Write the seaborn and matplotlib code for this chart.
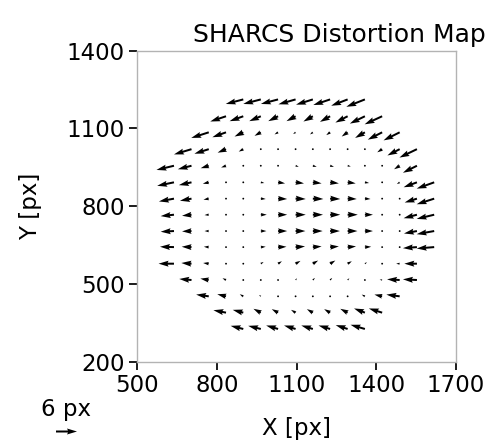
import matplotlib
matplotlib.use("Agg")
import matplotlib.pyplot as plt
import numpy as np
import pandas as pd
import seaborn as sns

# ---- data: grid positions (detector px) and distortion vectors (px) ----
col_x = [573, 638, 704, 769, 834, 899, 965, 1030, 1096, 1161, 1226,
         1292, 1357, 1422, 1488, 1553, 1618]
row_y = [1212, 1147, 1085, 1020, 956, 892, 829, 767, 704, 642, 578,
         515, 452, 389, 326]
row_first_col = [5, 4, 3, 2, 1, 1, 1, 1, 1, 1, 1, 2, 3, 4, 5]

u_rows = [
    [-5.0, -5.0, -4.9, -4.9, -4.8, -4.8, -4.7, -5.3],
    [-4.5, -3.9, -3.3, -2.8, -2.6, -2.7, -2.9, -3.5, -4.3, -5.0],
    [-5.0, -3.9, -2.5, -1.8, -1.0, -0.7, -0.8, -1.1, -1.7, -2.8, -4.1, -4.6],
    [-5.0, -4.1, -2.4, -1.3, -0.4, -0.1, 0.0, 0.1, 0.2, 0.2, 0.4, -1.4, -3.5, -5.0],
    [-5.0, -3.9, -2.3, -1.4, -0.4, -0.1, 0.3, 0.9, 1.1, 1.1, 0.9, 0.2, 0.4, -1.6, -4.0],
    [-4.8, -3.6, -1.7, -0.3, 0.0, 1.0, 2.0, 2.4, 2.5, 2.5, 2.3, 1.2, 0.2, -0.8, -3.8, -5.0],
    [-4.3, -3.3, -1.5, -0.2, 0.1, 1.4, 2.6, 2.9, 3.0, 2.9, 2.6, 1.6, -0.2, -0.3, -3.5, -5.0],
    [-3.8, -2.7, -1.2, -0.1, 0.1, 1.7, 2.6, 2.9, 2.9, 2.9, 2.9, 2.3, 0.2, 0.1, -3.8, -5.0],
    [-3.8, -2.7, -1.2, -0.1, 0.1, 1.6, 2.6, 2.8, 2.8, 2.8, 2.8, 2.3, 0.2, 0.1, -3.7, -5.0],
    [-4.0, -2.8, -1.4, -0.1, 0.1, 1.4, 2.4, 2.7, 2.5, 2.5, 2.4, 1.8, 0.1, 0.1, -4.0, -5.0],
    [-4.4, -2.9, -1.6, 0.2, 0.1, 0.8, 1.1, 1.4, 1.5, 1.5, 1.2, 0.6, 0.1, -1.0, -3.6],
    [-3.5, -2.4, -1.0, -0.1, 0.1, 0.3, 0.4, 0.6, 0.6, 0.5, 0.1, -0.7, -3.6, -4.0],
    [-3.6, -2.5, -1.0, -0.5, 0.0, 0.0, 0.1, 0.1, 0.1, -0.9, -2.2, -3.8],
    [-3.6, -3.0, -2.1, -1.8, -1.3, -1.7, -1.7, -2.1, -3.1, -3.8],
    [-3.6, -3.6, -3.4, -3.3, -3.3, -3.3, -3.4, -4.1],
]
v_rows = [
    [-1.3, -1.3, -1.3, -1.4, -1.5, -1.6, -1.8, -2.1],
    [-1.5, -1.4, -1.4, -1.4, -1.4, -1.5, -1.6, -1.8, -2.1, -2.3],
    [-1.6, -1.4, -1.2, -1.0, -0.6, -0.5, -0.6, -0.8, -1.2, -1.6, -2.1, -2.3],
    [-1.5, -1.3, -1.0, -0.7, -0.3, -0.2, -0.2, -0.2, -0.2, 0.2, 0.4, -0.9, -1.8, -2.4],
    [-1.2, -1.0, -0.7, -0.5, -0.2, -0.1, -0.1, -0.3, -0.3, -0.3, -0.2, 0.2, 0.4, -1.0, -2.0],
    [-1.0, -0.8, -0.4, -0.1, 0.0, -0.2, -0.3, -0.3, -0.3, -0.3, -0.3, -0.2, 0.1, -0.5, -1.4, -1.8],
    [-0.8, -0.6, -0.3, 0.0, 0.0, -0.1, -0.1, -0.1, -0.1, -0.1, -0.1, -0.1, 0.0, -0.2, -1.1, -1.6],
    [-0.4, -0.3, -0.1, 0.0, 0.0, 0.0, 0.0, 0.0, 0.0, 0.0, 0.0, 0.0, 0.0, 0.0, -1.0, -1.2],
    [-0.2, -0.1, 0.0, 0.0, 0.0, 0.0, 0.0, 0.0, 0.0, 0.0, 0.0, 0.0, 0.0, 0.0, -0.7, -0.9],
    [0.1, 0.1, 0.1, 0.0, 0.0, 0.1, 0.1, 0.2, 0.2, 0.2, 0.2, 0.1, 0.0, 0.0, -0.3, -0.4],
    [0.0, 0.2, 0.2, 0.2, 0.1, 0.5, 0.7, 0.8, 0.9, 0.9, 0.7, 0.4, 0.0, 0.0, 0.0],
    [0.3, 0.4, 0.5, 0.2, 0.2, 0.4, 0.5, 0.6, 0.6, 0.5, 0.1, 0.1, 0.2, 0.2],
    [0.5, 0.6, 0.6, 0.4, 0.3, 0.3, 0.3, 0.3, 0.3, 0.5, 0.5, 0.5],
    [0.7, 0.8, 1.1, 1.0, 0.8, 1.0, 1.0, 1.1, 1.2, 1.2],
    [0.9, 0.9, 1.0, 1.0, 1.0, 1.0, 1.1, 1.2],
]

x_ticks = [500, 800, 1100, 1400, 1700]
y_ticks = [200, 500, 800, 1100, 1400]
key_length = 6
key_label = "6 px"

records = []
for y, c0, us, vs in zip(row_y, row_first_col, u_rows, v_rows):
    for j, (u, v) in enumerate(zip(us, vs)):
        records.append({"x": col_x[c0 + j], "y": y, "u": u, "v": v})
df = pd.DataFrame(records)

sns.set_theme(context="talk", style="white")
plt.rcParams.update({
    "font.family": ["DejaVu Sans"],
    "axes.edgecolor": "0.7",
    "axes.linewidth": 1.0,
    "xtick.bottom": True,
    "ytick.left": True,
    "xtick.color": "black",
    "ytick.color": "black",
    "xtick.major.size": 6,
    "ytick.major.size": 6,
    "xtick.major.width": 1.25,
    "ytick.major.width": 1.25,
    "text.color": "black",
    "axes.labelcolor": "black",
})

fig = plt.figure(figsize=(4.94, 4.41), dpi=100)
ax = fig.add_axes([0.278, 0.18, 0.645, 0.705])

Q = ax.quiver(df["x"], df["y"], df["u"], df["v"], angles="uv",
              scale_units="dots", scale=1 / 3.5, units="dots", width=2.0,
              color="black")
ax.quiverkey(Q, 0.1326, 0.0227, key_length, key_label, labelpos="N",
             coordinates="figure", fontproperties={"size": 16.5})

ax.set_xlim(500, 1700)
ax.set_ylim(200, 1400)
ax.set_xticks(x_ticks)
ax.set_yticks(y_ticks)
ax.tick_params(labelsize=16.5, pad=3)
ax.set_xlabel("X [px]", fontsize=16.5, labelpad=14)
ax.set_ylabel("Y [px]", fontsize=16.5, labelpad=18)
ax.set_title("SHARCS Distortion Map", fontsize=18, x=0.633, pad=6)

fig.savefig("out.png", dpi=100)
